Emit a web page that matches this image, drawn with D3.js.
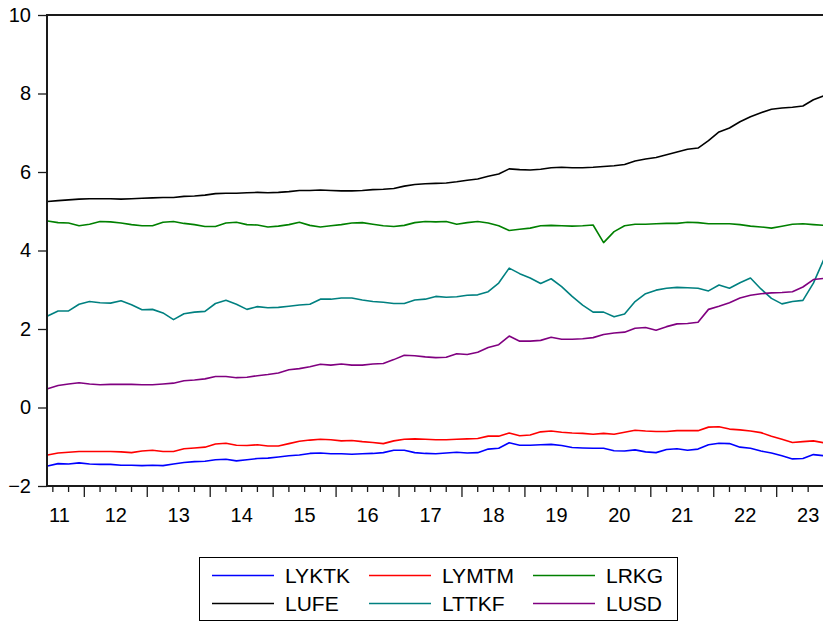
<!DOCTYPE html>
<html>
<head>
<meta charset="utf-8">
<script src="https://cdn.jsdelivr.net/npm/d3@7"></script>
<style>
  html, body { margin: 0; padding: 0; background: #fff; }
  svg { display: block; }
  text { font-family: "Liberation Sans", Arial, sans-serif; fill: #000; }
</style>
</head>
<body>
<div id="chart"></div>
<script>
// ---- data (every second month, 2011M06 .. 2023M10) ----
const months = [
  "2011M06","2011M08","2011M10","2011M12",
  "2012M02","2012M04","2012M06","2012M08","2012M10","2012M12",
  "2013M02","2013M04","2013M06","2013M08","2013M10","2013M12",
  "2014M02","2014M04","2014M06","2014M08","2014M10","2014M12",
  "2015M02","2015M04","2015M06","2015M08","2015M10","2015M12",
  "2016M02","2016M04","2016M06","2016M08","2016M10","2016M12",
  "2017M02","2017M04","2017M06","2017M08","2017M10","2017M12",
  "2018M02","2018M04","2018M06","2018M08","2018M10","2018M12",
  "2019M02","2019M04","2019M06","2019M08","2019M10","2019M12",
  "2020M02","2020M04","2020M06","2020M08","2020M10","2020M12",
  "2021M02","2021M04","2021M06","2021M08","2021M10","2021M12",
  "2022M02","2022M04","2022M06","2022M08","2022M10","2022M12",
  "2023M02","2023M04","2023M06","2023M08","2023M10"
];

const LYKTK = [
  -1.49,-1.43,-1.44,-1.41,-1.44,-1.45,-1.45,-1.47,-1.47,-1.48,-1.47,-1.48,-1.44,-1.40,-1.38,-1.37,-1.33,-1.32,-1.36,-1.33,-1.30,-1.29,-1.26,-1.23,-1.21,
  -1.17,-1.16,-1.18,-1.18,-1.19,-1.18,-1.17,-1.15,-1.09,-1.09,-1.15,-1.17,-1.18,-1.16,-1.14,-1.16,-1.15,-1.06,-1.04,-0.90,-0.96,-0.96,-0.95,-0.94,-0.97,
  -1.02,-1.03,-1.04,-1.04,-1.10,-1.11,-1.08,-1.13,-1.15,-1.07,-1.05,-1.09,-1.06,-0.95,-0.91,-0.92,-1.01,-1.04,-1.11,-1.16,-1.23,-1.31,-1.30,-1.20,-1.23
];
const LYMTM = [
  -1.21,-1.16,-1.14,-1.12,-1.12,-1.12,-1.12,-1.13,-1.15,-1.11,-1.09,-1.12,-1.12,-1.05,-1.03,-1.01,-0.93,-0.91,-0.96,-0.97,-0.95,-0.98,-0.98,-0.92,-0.86,
  -0.83,-0.81,-0.82,-0.85,-0.84,-0.87,-0.89,-0.92,-0.85,-0.81,-0.80,-0.81,-0.82,-0.82,-0.81,-0.80,-0.79,-0.73,-0.73,-0.65,-0.72,-0.70,-0.62,-0.60,-0.63,
  -0.65,-0.66,-0.68,-0.66,-0.68,-0.63,-0.58,-0.60,-0.61,-0.61,-0.59,-0.59,-0.59,-0.50,-0.49,-0.55,-0.57,-0.60,-0.64,-0.73,-0.81,-0.89,-0.87,-0.85,-0.90
];
const LRKG = [
  4.75,4.71,4.70,4.63,4.67,4.74,4.73,4.70,4.66,4.63,4.63,4.72,4.74,4.69,4.66,4.61,4.61,4.70,4.72,4.66,4.65,4.60,4.62,4.66,4.72,
  4.64,4.60,4.63,4.66,4.70,4.71,4.67,4.63,4.61,4.64,4.71,4.74,4.73,4.74,4.67,4.71,4.74,4.70,4.63,4.51,4.54,4.57,4.63,4.64,4.63,
  4.62,4.63,4.65,4.20,4.48,4.63,4.67,4.67,4.68,4.69,4.69,4.72,4.71,4.68,4.68,4.68,4.66,4.62,4.60,4.57,4.62,4.67,4.68,4.66,4.64
];
const LUFE = [
  5.25,5.27,5.29,5.31,5.32,5.32,5.32,5.31,5.32,5.33,5.34,5.35,5.35,5.38,5.39,5.41,5.45,5.46,5.46,5.47,5.48,5.47,5.48,5.50,5.53,
  5.53,5.54,5.53,5.52,5.52,5.53,5.55,5.56,5.58,5.64,5.68,5.70,5.71,5.72,5.75,5.79,5.82,5.89,5.95,6.08,6.06,6.05,6.07,6.11,6.12,
  6.11,6.11,6.12,6.14,6.16,6.19,6.28,6.33,6.37,6.44,6.51,6.58,6.61,6.80,7.02,7.12,7.28,7.41,7.51,7.60,7.63,7.65,7.68,7.84,7.94
];
const LTTKF = [
  2.33,2.46,2.46,2.63,2.70,2.67,2.66,2.72,2.62,2.49,2.50,2.41,2.24,2.39,2.43,2.45,2.65,2.73,2.63,2.50,2.57,2.54,2.55,2.58,2.61,
  2.63,2.76,2.76,2.79,2.79,2.74,2.70,2.68,2.65,2.65,2.74,2.76,2.83,2.81,2.82,2.86,2.87,2.95,3.17,3.55,3.41,3.30,3.16,3.28,3.08,
  2.83,2.61,2.43,2.43,2.31,2.38,2.70,2.90,2.99,3.04,3.06,3.05,3.04,2.97,3.12,3.04,3.18,3.30,3.02,2.78,2.64,2.70,2.73,3.17,3.78
];
const LUSD = [
  0.48,0.56,0.60,0.63,0.60,0.58,0.59,0.59,0.59,0.58,0.58,0.60,0.62,0.68,0.70,0.73,0.79,0.79,0.76,0.77,0.81,0.84,0.88,0.96,0.99,
  1.04,1.10,1.08,1.11,1.08,1.08,1.11,1.12,1.22,1.33,1.32,1.29,1.27,1.28,1.37,1.35,1.41,1.53,1.60,1.82,1.69,1.69,1.71,1.79,1.74,
  1.74,1.75,1.78,1.86,1.90,1.92,2.02,2.04,1.97,2.06,2.13,2.14,2.17,2.50,2.58,2.67,2.79,2.86,2.90,2.92,2.93,2.95,3.07,3.26,3.29
];

const seriesNames = ["LYKTK","LYMTM","LRKG","LUFE","LTTKF","LUSD"];
const seriesValues = [LYKTK, LYMTM, LRKG, LUFE, LTTKF, LUSD];
const seriesColors = ["#0000ff","#ff0000","#008000","#000000","#008080","#800080"];

const yTicks = [-2, 0, 2, 4, 6, 8, 10];
const yearLabels = ["11","12","13","14","15","16","17","18","19","20","21","22","23"];

// ---- layout ----
const W = 823, H = 622;
const plotLeft = 47, plotTop = 15, plotBottom = 486;

const toYear = s => +s.slice(0, 4) + (+s.slice(5) - 1) / 12;

const x = d3.scaleLinear()
  .domain([toYear("2011M06"), toYear("2023M10")])
  .range([47.6, 823.9]);
const y = d3.scaleLinear().domain([-2, 10]).range([plotBottom, plotTop]);

const svg = d3.select("#chart").append("svg")
  .attr("width", W).attr("height", H);

// series lines
const line = d3.line()
  .x((d, i) => x(toYear(months[i])))
  .y(d => y(d));

seriesValues.forEach((vals, si) => {
  svg.append("path")
    .datum(vals)
    .attr("d", line)
    .attr("fill", "none")
    .attr("stroke", seriesColors[si])
    .attr("stroke-width", 1.6)
    .attr("stroke-linejoin", "round");
});

// frame: left, top, bottom
svg.append("line").attr("x1", plotLeft).attr("x2", plotLeft).attr("y1", plotTop - 1).attr("y2", plotBottom + 1)
  .attr("stroke", "#1a1a1a").attr("stroke-width", 2);
svg.append("line").attr("x1", plotLeft).attr("x2", W).attr("y1", plotTop).attr("y2", plotTop)
  .attr("stroke", "#1a1a1a").attr("stroke-width", 2);
svg.append("line").attr("x1", plotLeft).attr("x2", W).attr("y1", plotBottom).attr("y2", plotBottom)
  .attr("stroke", "#1a1a1a").attr("stroke-width", 2);

// y axis
const yAxis = d3.axisLeft(y).tickValues(yTicks).tickSize(9).tickPadding(7).tickFormat(d3.format("d"));
const gy = svg.append("g").attr("transform", `translate(${plotLeft},0)`).call(yAxis);
gy.select(".domain").remove();
gy.selectAll(".tick line").attr("stroke", "#1a1a1a").attr("stroke-width", 1.3);
gy.selectAll(".tick text")
  .style("font-family", "'Liberation Sans', Arial, sans-serif")
  .style("font-size", "20px").attr("fill", "#000");

// x axis ticks: quarterly minor, yearly major
const quarterTicks = [];
for (let yr = 2011; yr <= 2023; yr++) {
  for (let q = 0; q < 4; q++) {
    const t = yr + q / 4;
    if (x(t) >= plotLeft + 2 && x(t) <= W) quarterTicks.push(t);
  }
}
const gx = svg.append("g");
gx.selectAll("line.tk").data(quarterTicks).enter().append("line")
  .attr("x1", d => x(d)).attr("x2", d => x(d))
  .attr("y1", plotBottom)
  .attr("y2", d => Math.abs(d - Math.round(d)) < 1e-9 ? plotBottom + 11 : plotBottom + 6)
  .attr("stroke", "#1a1a1a").attr("stroke-width", 1.3);

gx.selectAll("text.yr").data(yearLabels).enter().append("text")
  .attr("x", d => {
    const c = x(2000 + +d + 0.5);
    return Math.max(c, plotLeft + 12.5);
  })
  .attr("y", 522)
  .attr("text-anchor", "middle")
  .style("font-size", "20px")
  .text(d => d);

// legend
const lg = svg.append("g");
lg.append("rect").attr("x", 199.5).attr("y", 557.5).attr("width", 478).attr("height", 63)
  .attr("fill", "#fff").attr("stroke", "#000").attr("stroke-width", 1);
const colX = [212, 369, 533];
const rowY = [575.5, 603.5];
seriesNames.forEach((name, i) => {
  const c = i % 3, r = Math.floor(i / 3);
  lg.append("line")
    .attr("x1", colX[c]).attr("x2", colX[c] + 62)
    .attr("y1", rowY[r]).attr("y2", rowY[r])
    .attr("stroke", seriesColors[i]).attr("stroke-width", 1.6);
  lg.append("text")
    .attr("x", colX[c] + 73).attr("y", rowY[r])
    .attr("dy", "0.36em")
    .style("font-size", "21px")
    .text(name);
});
</script>
</body>
</html>
